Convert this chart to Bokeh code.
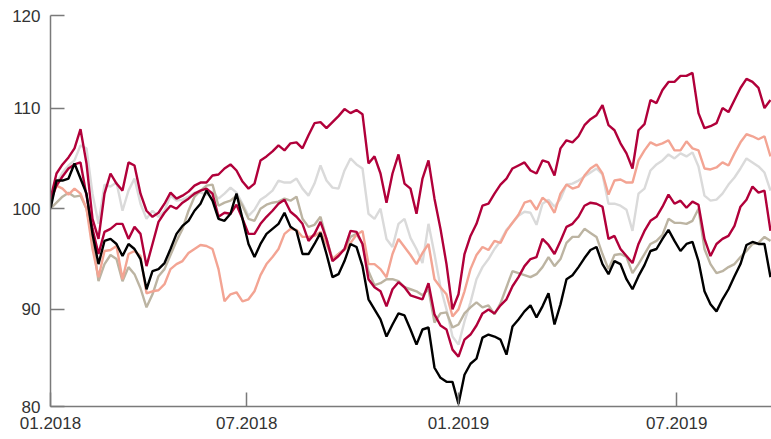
from bokeh.plotting import figure
from bokeh.models import Range1d, FixedTicker
from bokeh.embed import file_html
from bokeh.resources import INLINE

# observation index (uniform sampling along the time axis)
obs = list(range(121))

# x tick positions (observation index) and labels
x_ticks = [0, 32.7, 68.0, 104.37]
x_labels = ["01.2018", "07.2018", "01.2019", "07.2019"]

# y axis ends / ticks and labels
y_lo, y_hi = 80.35, 119.2
y_ticks = [y_lo, 90, 100, 110, y_hi]
y_labels = ["80", "90", "100", "110", "120"]

black = [100.0, 102.8, 102.8, 103.0, 104.5, 103.0, 101.5, 97.5, 94.5, 96.8,
         97.0, 96.5, 95.3, 96.5, 96.0, 95.0, 92.0, 93.8, 94.0, 94.6,
         96.0, 97.5, 98.3, 98.8, 99.8, 100.5, 101.8, 100.8, 99.0, 98.8,
         99.5, 101.5, 99.0, 96.5, 95.2, 96.5, 97.5, 98.0, 98.5, 99.6,
         98.2, 97.8, 95.5, 95.5, 96.5, 97.6, 95.5, 93.2, 93.5, 94.8,
         96.5, 96.2, 94.3, 91.0, 90.0, 89.0, 87.3, 88.5, 89.6, 89.4,
         88.0, 86.5, 88.0, 88.2, 84.2, 83.2, 82.8, 82.8, 80.6, 83.5,
         84.6, 85.1, 87.2, 87.5, 87.3, 87.0, 85.5, 88.3, 89.0, 89.8,
         90.4, 89.2, 90.3, 91.6, 88.5, 90.5, 93.0, 93.4, 94.2, 95.1,
         95.9, 96.2, 94.5, 93.5, 94.8, 94.5, 93.0, 92.0, 93.3, 94.4,
         95.8, 96.0, 97.0, 97.9, 96.8, 95.8, 96.5, 96.7, 94.8, 91.8,
         90.5, 89.8, 91.0, 92.0, 93.3, 94.5, 96.4, 96.7, 96.5, 96.5,
         93.2]

tan = [100.0, 100.6, 101.2, 101.6, 101.2, 101.3, 100.0, 97.0, 92.8, 94.5,
       95.4, 95.0, 92.8, 94.2, 93.5, 92.1, 90.2, 91.5, 93.3, 94.0,
       95.4, 96.8, 98.0, 99.8, 101.2, 101.8, 102.3, 102.4, 100.3, 100.6,
       100.8, 101.3, 100.3, 99.0, 98.8, 100.0, 100.4, 100.6, 100.7, 101.0,
       100.8, 101.2, 99.0, 98.2, 98.4, 99.2, 97.0, 95.0, 95.5, 96.0,
       97.2, 97.5, 96.5, 93.8, 92.4, 92.6, 93.0, 93.0, 92.8, 92.2,
       92.0, 91.8, 91.4, 92.0, 88.7, 89.6, 89.7, 88.2, 88.5, 89.6,
       90.2, 90.7, 90.2, 90.4, 89.5, 90.6, 92.2, 93.8, 93.6, 93.4,
       93.2, 93.5, 94.2, 95.2, 94.3, 95.0, 96.6, 97.2, 97.2, 98.0,
       97.6, 97.2, 95.5, 94.0, 95.4, 95.5, 95.2, 93.6, 94.5, 95.5,
       96.5, 96.8, 97.4, 99.0, 98.6, 98.6, 98.5, 98.8, 100.0, 96.0,
       94.5, 93.6, 93.8, 94.2, 94.5, 95.2, 95.8, 96.5, 96.6, 97.2,
       96.8]

salmon = [101.0, 102.3, 102.0, 101.4, 102.0, 101.5, 100.0, 96.0, 93.2, 95.8,
          95.9, 96.3, 93.0, 95.5, 95.8, 95.3, 91.6, 91.8, 91.9, 92.5,
          94.0, 94.5, 94.8, 95.6, 96.0, 96.4, 96.3, 96.0, 94.0, 90.8,
          91.5, 91.7, 90.8, 91.0, 91.8, 93.4, 94.5, 95.2, 96.0, 97.5,
          98.0, 97.9, 97.2, 97.2, 97.3, 97.7, 96.5, 95.0, 95.5, 95.9,
          96.6, 97.4, 97.8, 94.5, 94.5, 94.0, 93.2, 95.5, 97.0, 96.2,
          95.4, 94.5, 95.6, 96.5, 93.0, 92.2, 91.5, 89.3, 90.0, 91.8,
          94.0, 95.4, 96.2, 95.9, 96.8, 96.6, 97.8, 98.6, 99.4, 100.6,
          100.8, 99.9, 101.1, 100.6, 99.6, 101.5, 102.4, 102.0, 102.2, 103.3,
          104.0, 104.4, 103.5, 101.4, 102.8, 102.9, 102.6, 102.6, 104.8, 105.8,
          106.6, 106.3, 106.5, 106.8, 105.8, 105.8, 106.7, 106.0, 105.8, 104.0,
          103.9, 104.1, 104.6, 104.3, 105.5, 106.6, 107.4, 107.2, 106.9, 107.2,
          105.2]

grey = [100.3, 102.5, 103.6, 104.3, 104.8, 106.3, 106.0, 101.5, 98.5, 102.4,
        102.2, 102.6, 99.8, 101.8, 103.0, 100.5, 99.0, 99.8, 99.2, 99.8,
        101.3, 100.8, 100.9, 101.2, 101.6, 101.6, 101.4, 101.7, 101.0, 101.5,
        102.1, 101.6, 100.5, 99.3, 99.9, 100.9, 101.3, 101.8, 102.8, 102.6,
        102.6, 103.0, 102.0, 101.3, 102.5, 104.3, 102.8, 102.1, 102.0, 103.8,
        105.0, 104.4, 104.0, 99.5, 99.0, 100.0, 97.0, 96.2, 98.5, 99.0,
        97.1, 96.0, 94.6, 98.5, 95.5, 92.2, 90.0, 87.3, 86.5, 88.8,
        90.7, 93.0, 94.2, 95.0, 96.0, 96.8, 97.9, 98.6, 99.3, 99.7,
        99.6, 98.4, 100.5, 100.9, 100.2, 101.0, 102.4, 102.5, 102.8, 103.2,
        103.6, 104.0, 103.4, 100.5, 100.5, 100.3, 99.9, 97.8, 101.5, 102.0,
        103.8, 104.4, 104.8, 105.4, 105.0, 105.5, 105.2, 105.6, 104.2, 101.3,
        100.8, 100.9, 101.5, 102.4, 103.1, 104.0, 105.0, 104.6, 104.2, 103.6,
        101.8]

crimson_a = [101.0, 103.5, 104.4, 105.1, 106.0, 107.9, 104.5, 99.0, 97.0, 101.5,
             103.5, 102.5, 101.8, 104.6, 104.3, 101.5, 99.8, 99.2, 99.6, 100.5,
             101.6, 101.0, 101.3, 101.7, 102.3, 102.6, 102.6, 103.3, 103.4, 104.0,
             104.4, 103.8, 102.7, 102.0, 102.5, 104.8, 105.2, 105.7, 106.3, 105.8,
             106.5, 106.6, 106.0, 107.3, 108.5, 108.6, 108.0, 108.6, 109.2, 109.9,
             109.5, 109.8, 109.4, 104.5, 105.2, 103.5, 100.6, 103.5, 105.4, 102.5,
             102.0, 99.5, 103.0, 104.8, 101.0, 98.0, 94.5, 90.0, 91.5, 95.5,
             97.3, 98.5, 100.3, 100.5, 101.5, 102.4, 103.0, 104.0, 104.3, 104.6,
             103.8, 103.5, 104.8, 104.6, 103.3, 106.0, 106.8, 106.6, 107.2, 108.3,
             108.9, 109.3, 110.3, 108.3, 107.8, 106.5, 105.5, 104.0, 107.8, 108.4,
             110.8, 110.5, 111.8, 112.6, 112.6, 113.2, 113.2, 113.5, 109.5, 108.0,
             108.2, 108.5, 110.0, 109.6, 110.8, 112.0, 112.9, 112.6, 112.0, 110.0,
             110.8]

crimson_b = [100.8, 102.3, 103.2, 104.0, 104.4, 104.6, 101.3, 98.0, 95.5, 97.7,
             98.0, 98.5, 98.5, 97.0, 98.2, 97.5, 94.3, 96.5, 98.7, 99.6,
             100.3, 100.0, 100.6, 101.0, 101.5, 101.8, 102.0, 101.5, 99.2, 99.6,
             99.5, 100.4, 99.0, 97.5, 97.5, 98.5, 99.2, 99.8, 100.5, 100.9,
             99.7, 99.2, 98.5, 96.8, 97.5, 98.7, 97.0, 94.8, 95.3, 96.0,
             97.8, 97.7, 96.5, 93.0, 92.2, 91.8, 90.3, 92.0, 92.7, 92.2,
             91.4, 91.2, 91.0, 92.6, 89.5, 88.4, 88.0, 86.0, 85.3, 87.0,
             87.5, 88.4, 89.6, 90.0, 89.6, 90.4, 91.0, 92.3, 93.2, 94.3,
             95.0, 95.2, 97.0, 96.4, 95.5, 96.8, 98.2, 98.5, 99.2, 100.3,
             100.6, 100.5, 100.2, 97.0, 97.3, 96.0, 95.3, 94.6, 96.5, 97.8,
             98.8, 99.2, 100.2, 101.4, 100.5, 100.8, 100.1, 100.7, 100.4, 97.0,
             95.3, 96.5, 97.0, 97.3, 98.3, 100.2, 100.9, 102.2, 101.6, 101.8,
             97.8]

series = [
    (grey, "#dadada"),
    (tan, "#bcb4a2"),
    (salmon, "#f3a493"),
    (crimson_b, "#b1003a"),
    (crimson_a, "#b1003a"),
    (black, "#000000"),
]

p = figure(width=771, height=439, output_backend="svg", toolbar_location=None,
           x_range=Range1d(0, 120.17), y_range=Range1d(y_lo, y_hi),
           min_border_left=50, min_border_right=0, min_border_top=15,
           min_border_bottom=33)
p.outline_line_color = None
p.xgrid.visible = False
p.ygrid.visible = False
p.background_fill_color = "white"

for vals, col in series:
    p.line(obs, vals, line_color=col, line_width=2.4)

axis_col = "#7a7a7a"
label_col = "#333333"
for ax in (p.xaxis[0], p.yaxis[0]):
    ax.axis_line_color = axis_col
    ax.axis_line_width = 1.5
    ax.major_tick_line_color = axis_col
    ax.major_tick_line_width = 1.5
    ax.major_tick_in = 14
    ax.major_tick_out = 0
    ax.minor_tick_line_color = None
    ax.major_label_text_font = "Liberation Sans"
    ax.major_label_text_font_size = "17px"
    ax.major_label_text_color = label_col

p.xaxis.ticker = FixedTicker(ticks=x_ticks)
p.xaxis.major_label_overrides = {t: l for t, l in zip(x_ticks, x_labels)}
p.xaxis.major_label_standoff = 10
p.yaxis.ticker = FixedTicker(ticks=y_ticks)
p.yaxis.major_label_overrides = {t: l for t, l in zip(y_ticks, y_labels)}
p.yaxis.major_label_standoff = 10

open("out.html", "w").write(file_html(p, INLINE))
